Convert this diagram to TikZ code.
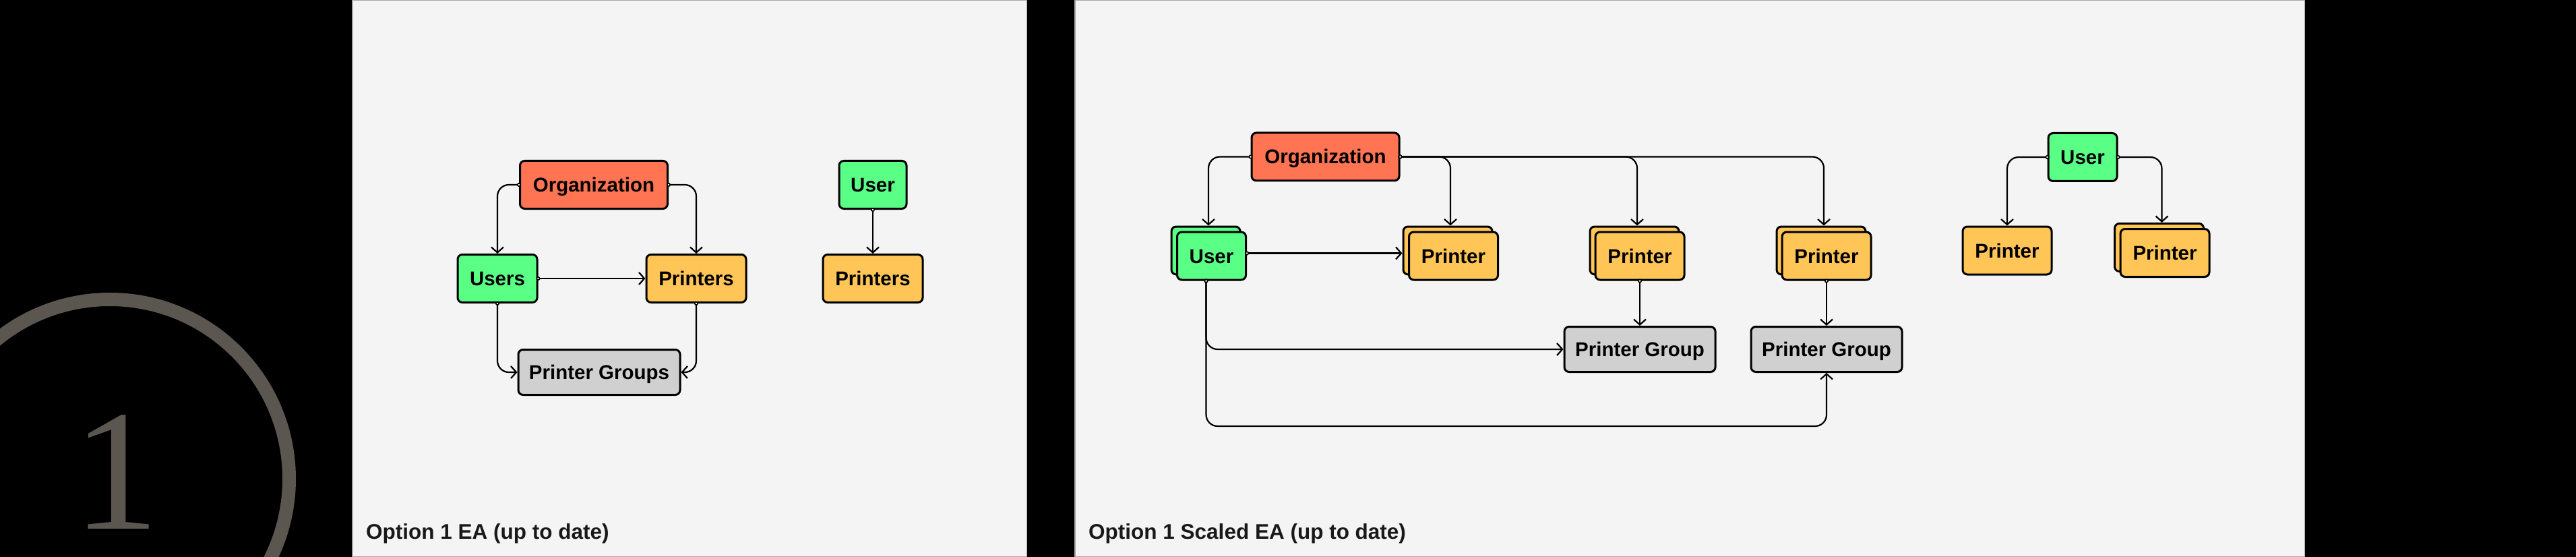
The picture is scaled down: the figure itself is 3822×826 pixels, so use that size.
\documentclass[tikz,border=0pt]{standalone}
\usepackage{fontspec}
\usepackage{tikz}
\usetikzlibrary{arrows.meta,calc}
\newfontfamily\labelfont{Liberation Sans}
\newfontfamily\numberfont{Liberation Serif}

\definecolor{panelbg}{HTML}{F4F4F4}
\definecolor{panelrim}{HTML}{A8A8A8}
\definecolor{orgred}{HTML}{FF7452}
\definecolor{usergreen}{HTML}{5AFF86}
\definecolor{printeryellow}{HTML}{FFC556}
\definecolor{groupgray}{HTML}{D0D0D0}
\definecolor{numgray}{HTML}{5C5650}

\begin{document}
\begin{tikzpicture}[x=1pt, y=-1pt,
    entity/.style={draw=black, line width=3pt, rounded corners=7pt, inner sep=0pt,
        minimum height=71pt, text height=21pt, text depth=0pt,
        font=\labelfont\bfseries\fontsize{29.5}{30}\selectfont},
    orgbox/.style={entity, fill=orgred, minimum width=219pt},
    userbox/.style={entity, fill=usergreen},
    printerbox/.style={entity, fill=printeryellow},
    groupbox/.style={entity, fill=groupgray, minimum height=67pt},
    link/.style={draw=black, line width=2.2pt, rounded corners=17pt, shorten <=-3pt,
        {Circle[length=6pt,fill=white,line width=1.6pt]}-{Straight Barb[length=8pt,width=18pt]}},
    caption/.style={anchor=base west, inner sep=0pt, text=black!90,
        font=\labelfont\bfseries\fontsize{31.5}{32}\selectfont}]

    \useasboundingbox (0,0) rectangle (3822,826);
    \clip (0,0) rectangle (3822,826);
    \fill[black] (0,0) rectangle (3822,826);

    \draw[numgray, line width=20pt] (163,710) circle[radius=266pt];
    \node[text=numgray, inner sep=0pt, anchor=base, font=\numberfont\fontsize{256}{256}\selectfont] (one) at (172,784) {1};

    \draw[panelrim, fill=panelbg, line width=1.5pt] (522.75,0.75) rectangle (1523.25,825.25);
    \draw[panelrim, fill=panelbg, line width=1.5pt] (1594.75,0.75) rectangle (3419.25,825.25);

    % first panel
    \node[orgbox] (org) at (881,274) {Organization};
    \node[userbox, minimum width=118pt] (users) at (738,413) {Users};
    \node[printerbox, minimum width=148pt] (printers) at (1033,413) {Printers};
    \node[groupbox, minimum width=240pt] (groups) at (889,552) {Printer Groups};
    \node[userbox, minimum width=100pt] (oneuser) at (1295,274) {User};
    \node[printerbox, minimum width=148pt] (userprinters) at (1295,413) {Printers};

    \draw[link] (org.west) -| (users.north);
    \draw[link] (org.east) -| (printers.north);
    \draw[link] (users.east) -- (printers.west);
    \draw[link] (users.south) |- (groups.west);
    \draw[link] (printers.south) |- (groups.east);
    \draw[link] (oneuser.south) -- (userprinters.north);

    \node[caption] (captionA) at (543,799) {Option 1 EA (up to date)};

    % second panel
    \node[orgbox] (sorg) at (1966.5,232.5) {Organization};
    \node[userbox, minimum width=102pt] (suserbk) at (1789,371.5) {};
    \node[userbox, minimum width=102pt] (suser) at (1797.5,379.5) {User};
    \node[printerbox, minimum width=132pt] (printerAbk) at (2148,371.5) {};
    \node[printerbox, minimum width=132pt] (printerA) at (2156.5,379.5) {Printer};
    \node[printerbox, minimum width=132pt] (printerBbk) at (2425,371.5) {};
    \node[printerbox, minimum width=132pt] (printerB) at (2433,379.5) {Printer};
    \node[printerbox, minimum width=132pt] (printerCbk) at (2702,371.5) {};
    \node[printerbox, minimum width=132pt] (printerC) at (2710,379.5) {Printer};
    \node[groupbox, minimum width=224pt] (groupB) at (2433,518) {Printer Group};
    \node[groupbox, minimum width=224pt] (groupC) at (2710,518) {Printer Group};

    \draw[link] (sorg.west) -| ([xshift=4pt]suserbk.north);
    \draw[link] (sorg.east) -| ([xshift=4pt]printerAbk.north);
    \draw[link] (sorg.east) -| ([xshift=4pt]printerBbk.north);
    \draw[link] (sorg.east) -| ([xshift=4pt]printerCbk.north);
    \draw[link] ([yshift=4pt]suser.east) -- ([yshift=-4pt]printerAbk.west);
    \draw[link] (printerB.south) -- (groupB.north);
    \draw[link] (printerC.south) -- (groupC.north);
    \draw[link] ([xshift=-8pt]suser.south) |- (groupB.west);
    \draw[link] ([xshift=-8pt]suser.south) |- ([yshift=-79pt]groupC.south) -- (groupC.south);

    \node[userbox, minimum width=102pt] (ruser) at (3090,233) {User};
    \node[printerbox, minimum width=132pt] (rprinter) at (2978,371.5) {Printer};
    \node[printerbox, minimum width=132pt] (rprintersbk) at (3203.5,367) {};
    \node[printerbox, minimum width=132pt] (rprinters) at (3212,375) {Printer};

    \draw[link] (ruser.west) -| (rprinter.north);
    \draw[link] (ruser.east) -| ([xshift=4pt]rprintersbk.north);

    \node[caption] (captionB) at (1615,799) {Option 1 Scaled EA (up to date)};
\end{tikzpicture}
\end{document}
